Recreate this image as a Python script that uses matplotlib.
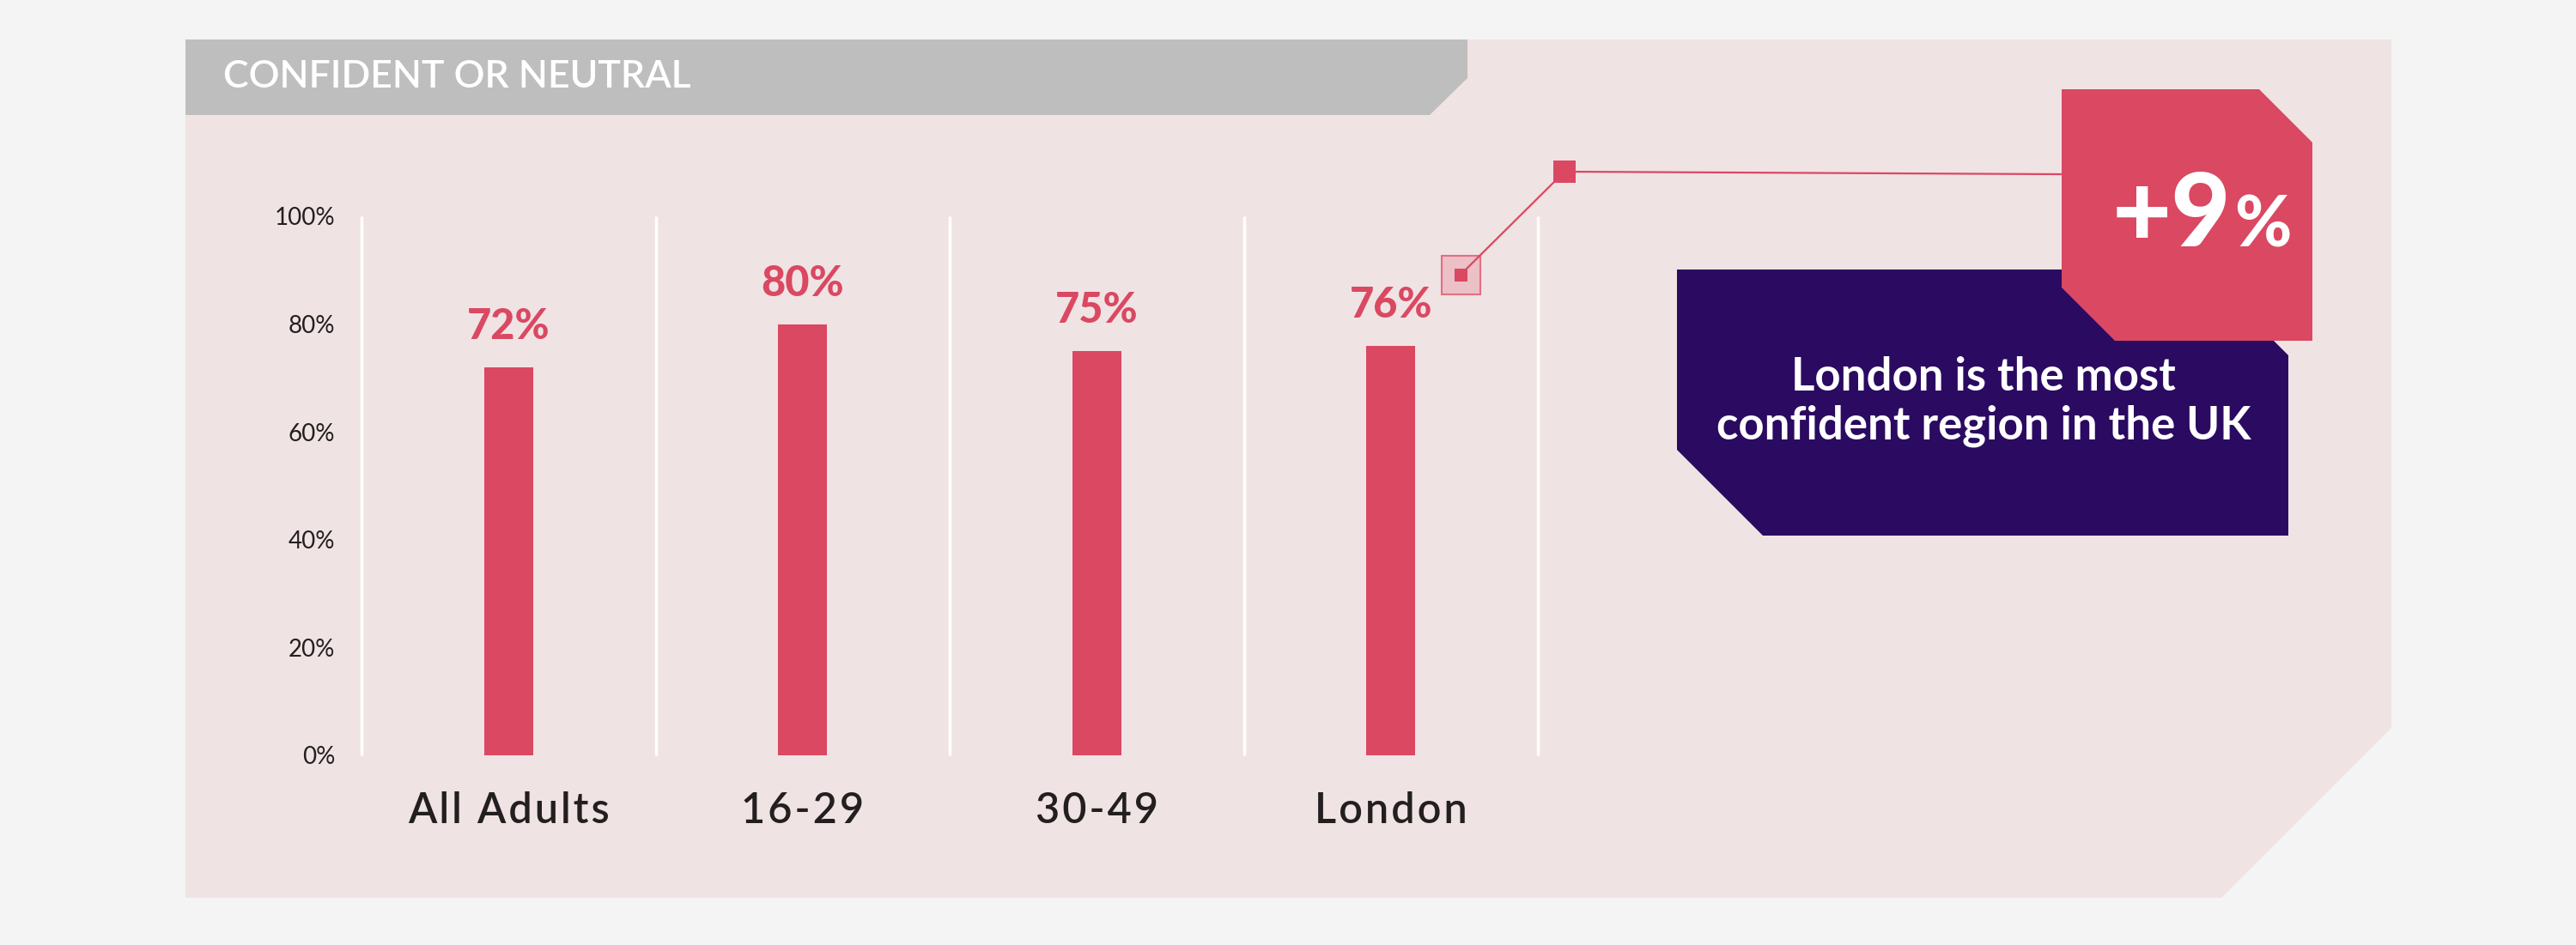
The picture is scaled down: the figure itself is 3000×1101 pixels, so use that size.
import matplotlib.pyplot as plt
from matplotlib.patches import Polygon, Rectangle

# data
categories = ["All Adults", "16-29", "30-49", "London"]
values = [72, 80, 75, 76]
y_ticks = [0, 20, 40, 60, 80, 100]
title = "CONFIDENT OR NEUTRAL"
callout_big = "+9"
callout_note = "London is the most\nconfident region in the UK"

RED = "#DA4862"
PURPLE = "#2B0A62"
PANEL = "#F0E3E4"
OUTER = "#F4F4F4"
GREY = "#BEBEBE"
DARK = "#231F20"
W, H = 3000, 1101

plt.rcParams['font.family'] = ['Lato', 'DejaVu Sans']


def spaced(s):
    # letter spacing via hair spaces
    return "\u200a".join(s)


fig = plt.figure(figsize=(W / 100, H / 100), dpi=100, facecolor=OUTER)

# background layer in pixel coordinates (y down)
bg = fig.add_axes([0, 0, 1, 1], zorder=0)
bg.set_xlim(0, W)
bg.set_ylim(H, 0)
bg.axis("off")

bg.add_patch(Polygon([(216, 46), (2785, 46), (2785, 848), (2587, 1046), (216, 1046)],
                     closed=True, fc=PANEL, ec="none"))
bg.add_patch(Polygon([(216, 46), (1709, 46), (1709, 91), (1665, 134), (216, 134)],
                     closed=True, fc=GREY, ec="none"))
bg.text(260, 90, title, color="white", fontsize=32, fontweight="semibold",
        va="center", ha="left")

# chart axes
ax = fig.add_axes([421 / W, (H - 880) / H, (1791 - 421) / W, (880 - 252) / H], zorder=2)
ax.set_facecolor("none")
x = list(range(len(categories)))
ax.set_xlim(-0.5, len(categories) - 0.5)
ax.set_ylim(0, 100)

for s in ax.spines.values():
    s.set_visible(False)

ax.vlines([i - 0.5 for i in range(len(categories) + 1)], 0, 100,
          colors="white", linewidth=2.5, clip_on=False, zorder=1)
ax.bar(x, values, width=0.167, color=RED, zorder=2)

for xi, v in zip(x, values):
    ax.annotate(f"{v}%", (xi, v), xytext=(0, 34), textcoords="offset points",
                ha="center", va="center", color=RED, fontsize=35, fontweight="black")

ax.set_yticks(y_ticks)
ax.set_yticklabels([f"{t}%" for t in y_ticks], fontsize=20, color=DARK)
ax.set_xticks(x)
ax.set_xticklabels([spaced(c) for c in categories], fontsize=35, color=DARK,
                   fontweight="semibold")
ax.tick_params(axis="y", length=0, pad=22)
ax.tick_params(axis="x", length=0, pad=30)

# callout layer
fg = fig.add_axes([0, 0, 1, 1], zorder=3)
fg.set_xlim(0, W)
fg.set_ylim(H, 0)
fg.axis("off")

fg.add_patch(Rectangle((1679, 298), 45, 45, fc="#EBC0C7", ec="#E46E84", lw=1.5))
fg.add_patch(Rectangle((1694, 313), 15, 15, fc=RED, ec="none"))
fg.plot([1701, 1822], [320, 200], color=RED, lw=1.6)
fg.plot([1822, 2401], [200, 203], color=RED, lw=1.6)
fg.add_patch(Rectangle((1809, 187), 26, 26, fc=RED, ec="none"))

fg.add_patch(Polygon([(1953, 314), (2565, 314), (2665, 414), (2665, 624), (2053, 624), (1953, 524)],
                     closed=True, fc=PURPLE, ec="none"))
fg.add_patch(Polygon([(2401, 104), (2631, 104), (2693, 166), (2693, 397), (2463, 397), (2401, 335)],
                     closed=True, fc=RED, ec="none"))

fg.text(2598, 287, callout_big, color="white", fontsize=86, fontweight="black",
        ha="right", va="baseline")
fg.text(2602, 288, "%", color="white", fontsize=58, fontweight="black",
        ha="left", va="baseline")
fg.text(2310, 468, callout_note, color="white", fontsize=38, fontweight="bold",
        ha="center", va="center", linespacing=1.2)

fig.savefig("out.png", dpi=100, facecolor=OUTER)
